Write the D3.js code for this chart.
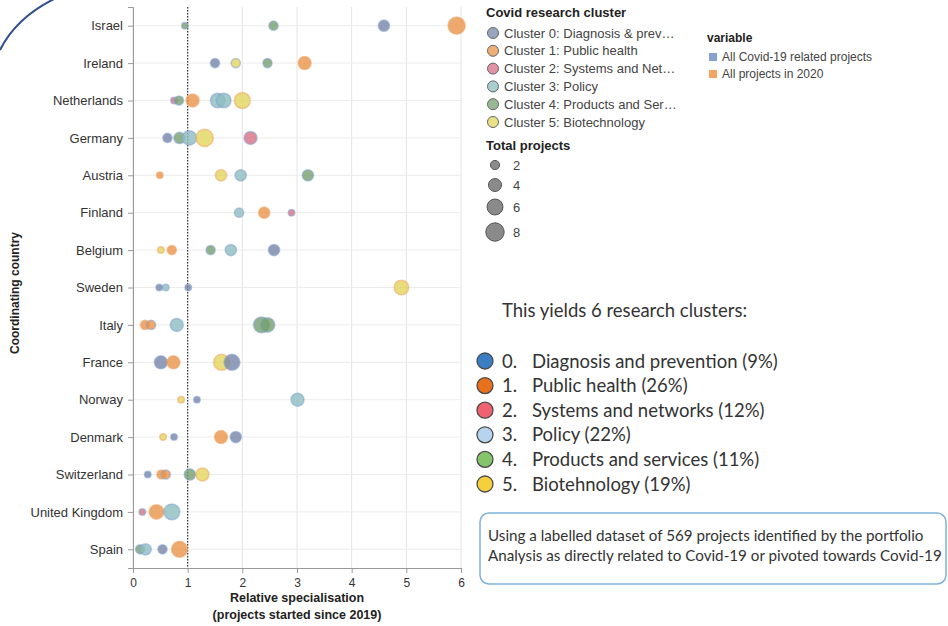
<!DOCTYPE html>
<html>
<head>
<meta charset="utf-8">
<script src="https://cdn.jsdelivr.net/npm/d3@7"></script>
<style>
  body { margin: 0; background: #fff; }
  svg { display: block; }
</style>
</head>
<body>
<div id="chart"></div>
<script>
'use strict'

const countries = ['Israel', 'Ireland', 'Netherlands', 'Germany', 'Austria', 'Finland', 'Belgium',
  'Sweden', 'Italy', 'France', 'Norway', 'Denmark', 'Switzerland', 'United Kingdom', 'Spain'];
const xTicks = [0, 1, 2, 3, 4, 5, 6];
const sizeTicks = [2, 4, 6, 8];

const clusterNames = ['Cluster 0: Diagnosis & prev\u2026', 'Cluster 1: Public health',
  'Cluster 2: Systems and Net\u2026', 'Cluster 3: Policy', 'Cluster 4: Products and Ser\u2026',
  'Cluster 5: Biotechnology'];
const clusterColors = ['#7786a8', '#e8944a', '#d76f84', '#8cbdc0', '#74a06e', '#e3d65c'];

const variables = ['All Covid-19 related projects', 'All projects in 2020'];
const variableColors = ['#86a3cf', '#f1a464'];

// one entry per point
const ptCountry = [
  'Israel', 'Israel', 'Israel', 'Israel',
  'Ireland', 'Ireland', 'Ireland', 'Ireland',
  'Netherlands', 'Netherlands', 'Netherlands', 'Netherlands', 'Netherlands', 'Netherlands',
  'Germany', 'Germany', 'Germany', 'Germany', 'Germany',
  'Austria', 'Austria', 'Austria', 'Austria',
  'Finland', 'Finland', 'Finland',
  'Belgium', 'Belgium', 'Belgium', 'Belgium', 'Belgium',
  'Sweden', 'Sweden', 'Sweden', 'Sweden',
  'Italy', 'Italy', 'Italy', 'Italy', 'Italy',
  'France', 'France', 'France', 'France',
  'Norway', 'Norway', 'Norway',
  'Denmark', 'Denmark', 'Denmark', 'Denmark',
  'Switzerland', 'Switzerland', 'Switzerland', 'Switzerland', 'Switzerland',
  'United Kingdom', 'United Kingdom', 'United Kingdom',
  'Spain', 'Spain', 'Spain', 'Spain'];
const ptCluster = [
  4, 4, 0, 1,
  0, 5, 4, 1,
  2, 4, 1, 3, 3, 5,
  0, 4, 3, 5, 2,
  1, 5, 3, 4,
  3, 1, 2,
  5, 1, 4, 3, 0,
  0, 3, 0, 5,
  1, 1, 3, 4, 4,
  0, 1, 5, 0,
  5, 0, 3,
  5, 0, 1, 0,
  0, 1, 1, 4, 5,
  2, 1, 3,
  4, 3, 0, 1];
const ptValue = [
  0.95, 2.57, 4.59, 5.92,
  1.50, 1.88, 2.46, 3.14,
  0.75, 0.84, 1.09, 1.55, 1.66, 2.00,
  0.63, 0.85, 1.03, 1.31, 2.15,
  0.49, 1.61, 1.97, 3.20,
  1.94, 2.40, 2.90,
  0.51, 0.71, 1.42, 1.79, 2.58,
  0.48, 0.60, 1.01, 4.91,
  0.22, 0.33, 0.80, 2.35, 2.46,
  0.51, 0.74, 1.62, 1.81,
  0.88, 1.17, 3.01,
  0.55, 0.75, 1.61, 1.88,
  0.27, 0.52, 0.60, 1.04, 1.27,
  0.17, 0.43, 0.71,
  0.13, 0.23, 0.54, 0.85];
const ptTotal = [
  1, 2, 3, 7,
  2, 2, 2, 4,
  1, 2, 4, 5, 5, 6,
  2, 3, 5, 7, 4,
  1, 3, 3, 3,
  2, 3, 1,
  1, 2, 2, 3, 3,
  1, 1, 1, 5,
  2, 2, 4, 6, 5,
  4, 4, 6, 6,
  1, 1, 4,
  1, 1, 4, 3,
  1, 2, 2, 3, 4,
  1, 5, 6,
  2, 3, 2, 6];
const ptVariable = [
  0, 0, 0, 1,
  0, 0, 0, 1,
  0, 0, 1, 0, 0, 1,
  0, 0, 0, 1, 0,
  1, 1, 0, 0,
  0, 1, 0,
  1, 1, 0, 0, 0,
  0, 0, 0, 1,
  1, 0, 0, 0, 0,
  0, 1, 1, 0,
  1, 0, 0,
  1, 0, 1, 0,
  0, 1, 0, 0, 1,
  0, 1, 0,
  0, 0, 0, 1];

const summaryNums = ['0.', '1.', '2.', '3.', '4.', '5.'];
const summaryLabels = ['Diagnosis and prevention (9%)', 'Public health (26%)', 'Systems and networks (12%)',
  'Policy (22%)', 'Products and services (11%)', 'Biotehnology (19%)'];
const summaryColors = ['#3a7fc3', '#e8711e', '#f0626f', '#b6d4ee', '#86c46b', '#f6cf3c'];
const noteLines = ['Using a labelled dataset of 569 projects identified by the portfolio',
  'Analysis as directly related to Covid-19 or pivoted towards Covid-19'];

const width = 948;
const height = 626;
const axisFont = '"Liberation Sans", Arial, sans-serif';
const slideFont = 'Lato, "Open Sans", sans-serif';

const svg = d3.select('#chart')
  .append('svg')
    .attr('width', width)
    .attr('height', height);

// slide decoration arc, top left
svg.append('path')
  .attr('d', 'M0,50 Q16,18 54,-1')
  .attr('fill', 'none')
  .attr('stroke', '#2f4f8e')
  .attr('stroke-width', 2);

const plot = { left: 133, right: 461, top: 7, bottom: 568 };

const x = d3.scaleLinear().domain([0, 6]).range([plot.left, plot.right]);
const y = d3.scalePoint().domain(countries).range([plot.top, plot.bottom]).padding(0.5);
const r = d3.scaleSqrt().domain([0, 8]).range([0, 9.2]);

const g = svg.append('g');

// grid
g.selectAll('.vgrid')
  .data(xTicks)
  .enter()
  .append('line')
    .attr('x1', d => x(d)).attr('x2', d => x(d))
    .attr('y1', plot.top).attr('y2', plot.bottom)
    .attr('stroke', '#e4e4e4');

g.selectAll('.hgrid')
  .data(countries)
  .enter()
  .append('line')
    .attr('x1', plot.left).attr('x2', plot.right)
    .attr('y1', d => y(d)).attr('y2', d => y(d))
    .attr('stroke', '#ececec');

// x axis
const xAxis = g.append('g')
  .attr('transform', 'translate(0,' + plot.bottom + ')')
  .call(d3.axisBottom(x).tickValues(xTicks).tickFormat(d3.format('d')).tickSize(5).tickPadding(5));
xAxis.select('.domain').attr('stroke', '#999');
xAxis.selectAll('.tick line').attr('stroke', '#999');
xAxis.selectAll('text').attr('font-family', axisFont).attr('font-size', 12).attr('fill', '#333');

// y axis
const yAxis = g.append('g')
  .attr('transform', 'translate(' + plot.left + ',0)')
  .call(d3.axisLeft(y).tickSize(5).tickPadding(5));
yAxis.select('.domain').attr('stroke', '#999');
yAxis.selectAll('.tick line').attr('stroke', '#999');
yAxis.selectAll('text').attr('font-family', axisFont).attr('font-size', 13).attr('fill', '#333');

// axis titles
svg.append('text')
  .attr('x', (plot.left + plot.right) / 2).attr('y', 602)
  .attr('text-anchor', 'middle')
  .attr('font-family', axisFont).attr('font-size', 12.5).attr('font-weight', 'bold').attr('fill', '#222')
  .text('Relative specialisation');
svg.append('text')
  .attr('x', (plot.left + plot.right) / 2).attr('y', 619)
  .attr('text-anchor', 'middle')
  .attr('font-family', axisFont).attr('font-size', 12.5).attr('font-weight', 'bold').attr('fill', '#222')
  .text('(projects started since 2019)');
svg.append('text')
  .attr('transform', 'translate(19,293) rotate(-90)')
  .attr('text-anchor', 'middle')
  .attr('font-family', axisFont).attr('font-size', 12).attr('font-weight', 'bold').attr('fill', '#222')
  .text('Coordinating country');

// reference line at 1
g.append('line')
  .attr('x1', x(1)).attr('x2', x(1))
  .attr('y1', plot.top).attr('y2', plot.bottom)
  .attr('stroke', '#333')
  .attr('stroke-width', 1.2)
  .attr('stroke-dasharray', '1.5,1.5');

// points
const points = ptCountry.map((c, i) => ({
  country: c,
  cluster: ptCluster[i],
  value: ptValue[i],
  total: ptTotal[i],
  variable: ptVariable[i]
}));

g.selectAll('.pt')
  .data(points)
  .enter()
  .append('circle')
    .attr('cx', d => x(d.value))
    .attr('cy', d => y(d.country))
    .attr('r', d => r(d.total))
    .attr('fill', d => clusterColors[d.cluster])
    .attr('fill-opacity', 0.8)
    .attr('stroke', d => variableColors[d.variable])
    .attr('stroke-opacity', 0.55)
    .attr('stroke-width', 1.5);

// cluster legend
const legend = svg.append('g').attr('font-family', axisFont);
legend.append('text')
  .attr('x', 486).attr('y', 17)
  .attr('font-size', 13).attr('font-weight', 'bold').attr('fill', '#222')
  .text('Covid research cluster');

const clusterItems = legend.selectAll('.citem')
  .data(clusterNames)
  .enter()
  .append('g')
    .attr('transform', (d, i) => 'translate(493,' + (33 + i * 17.8) + ')');
clusterItems.append('circle')
  .attr('r', 5.5)
  .attr('fill', (d, i) => clusterColors[i])
  .attr('fill-opacity', 0.75)
  .attr('stroke', '#666')
  .attr('stroke-width', 1);
clusterItems.append('text')
  .attr('x', 11).attr('y', 4.5)
  .attr('font-size', 13).attr('fill', '#444')
  .text(d => d);

legend.append('text')
  .attr('x', 486).attr('y', 150)
  .attr('font-size', 13).attr('font-weight', 'bold').attr('fill', '#222')
  .text('Total projects');

const sizeY = [165, 185, 207, 232];
const sizeItems = legend.selectAll('.sitem')
  .data(sizeTicks)
  .enter()
  .append('g')
    .attr('transform', (d, i) => 'translate(495,' + sizeY[i] + ')');
sizeItems.append('circle')
  .attr('r', d => r(d))
  .attr('fill', '#8a8a8a')
  .attr('stroke', '#555')
  .attr('stroke-width', 1);
sizeItems.append('text')
  .attr('x', 18).attr('y', 4.5)
  .attr('font-size', 13).attr('fill', '#444')
  .text(d => d);

// variable legend
legend.append('text')
  .attr('x', 707).attr('y', 42)
  .attr('font-size', 12).attr('font-weight', 'bold').attr('fill', '#222')
  .text('variable');
const varItems = legend.selectAll('.vitem')
  .data(variables)
  .enter()
  .append('g')
    .attr('transform', (d, i) => 'translate(709,' + (53 + i * 17) + ')');
varItems.append('rect')
  .attr('width', 8).attr('height', 8)
  .attr('fill', (d, i) => variableColors[i]);
varItems.append('text')
  .attr('x', 13).attr('y', 8)
  .attr('font-size', 12).attr('fill', '#444')
  .text(d => d);

// slide text on the right
svg.append('text')
  .attr('x', 502).attr('y', 317)
  .attr('font-family', slideFont).attr('font-size', 18.5).attr('fill', '#333')
  .text('This yields 6 research clusters:');

const sumItems = svg.selectAll('.sum')
  .data(summaryLabels)
  .enter()
  .append('g')
    .attr('transform', (d, i) => 'translate(0,' + (361 + i * 24.6) + ')');
sumItems.append('circle')
  .attr('cx', 485).attr('r', 8)
  .attr('fill', (d, i) => summaryColors[i])
  .attr('stroke', '#4a4a4a')
  .attr('stroke-width', 1.3);
sumItems.append('text')
  .attr('x', 502).attr('y', 6.5)
  .attr('font-family', slideFont).attr('font-size', 18.5).attr('fill', '#333')
  .text((d, i) => summaryNums[i]);
sumItems.append('text')
  .attr('x', 532).attr('y', 6.5)
  .attr('font-family', slideFont).attr('font-size', 18.5).attr('fill', '#333')
  .text(d => d);

svg.append('rect')
  .attr('x', 480).attr('y', 513)
  .attr('width', 466).attr('height', 71)
  .attr('rx', 9)
  .attr('fill', 'none')
  .attr('stroke', '#7fb1de')
  .attr('stroke-width', 1.5);

svg.selectAll('.note')
  .data(noteLines)
  .enter()
  .append('text')
    .attr('x', 488)
    .attr('y', (d, i) => 541 + i * 20)
    .attr('font-family', slideFont).attr('font-size', 15.2).attr('fill', '#333')
    .text(d => d);
</script>
</body>
</html>
